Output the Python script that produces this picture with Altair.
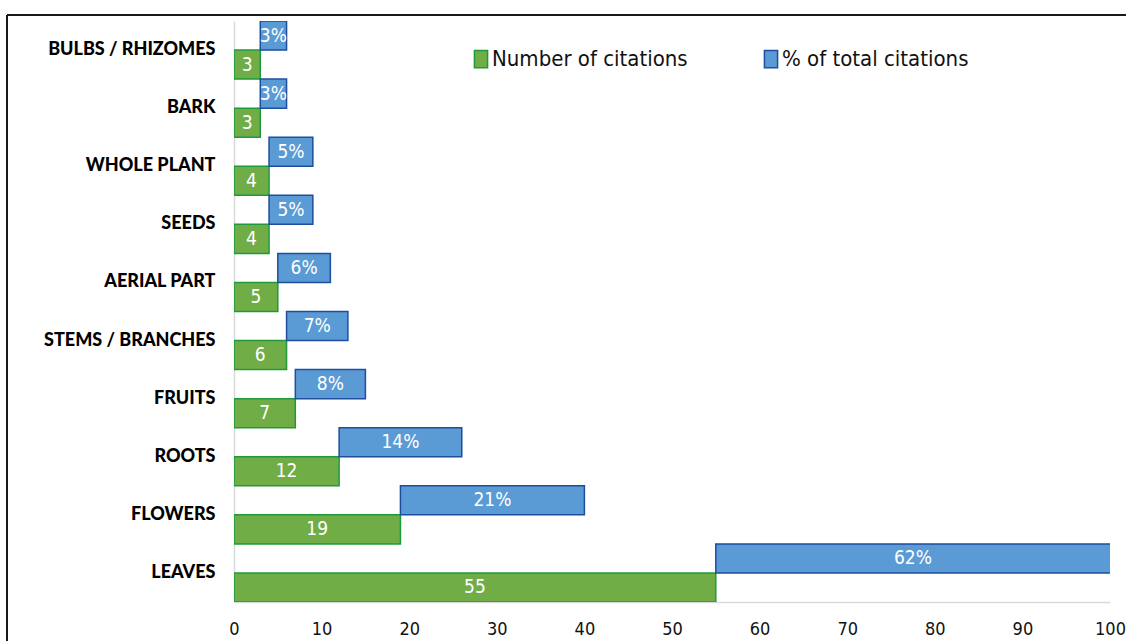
import altair as alt
import pandas as pd

# Plant parts, top to bottom
categories = [
    "BULBS / RHIZOMES", "BARK", "WHOLE PLANT", "SEEDS", "AERIAL PART",
    "STEMS / BRANCHES", "FRUITS", "ROOTS", "FLOWERS", "LEAVES",
]
citations = [3, 3, 4, 4, 5, 6, 7, 12, 19, 55]
percent_of_total = [3, 3, 5, 5, 6, 7, 8, 14, 21, 62]

series = ["Number of citations", "% of total citations"]
fills = ["#70AD47", "#5B9BD5"]
strokes = ["#1E9A3C", "#1F4E9C"]

X_MAX = 100
NARROW = "Liberation Sans Narrow, DejaVu Sans Condensed, Lato, sans-serif"

rows = []
for cat, n, p in zip(categories, citations, percent_of_total):
    rows.append({"category": cat, "series": series[0], "start": 0, "end": n,
                 "label": str(n)})
    rows.append({"category": cat, "series": series[1], "start": n, "end": n + p,
                 "label": f"{p}%"})
df = pd.DataFrame(rows)

y_enc = alt.Y("category:N", sort=categories, title=None,
              scale=alt.Scale(paddingInner=0, paddingOuter=0),
              axis=alt.Axis(labelFont="Lato", labelFontWeight=900,
                            labelFontSize=18, labelColor="#000000",
                            labelPadding=19, ticks=False, domain=True,
                            domainColor="#d9d9d9", domainWidth=1.5))
yoff_enc = alt.YOffset("series:N", sort=[series[1], series[0]],
                       scale=alt.Scale(paddingInner=0, paddingOuter=0))
x_scale = alt.Scale(domain=[0, X_MAX], nice=False)

bars = alt.Chart(df).mark_bar(clip=True, strokeWidth=1.5, opacity=1).encode(
    x=alt.X("start:Q", scale=x_scale, title=None,
            axis=alt.Axis(values=list(range(0, 101, 10)), grid=False, ticks=False,
                          labelFont=NARROW, labelFontSize=18, labelColor="#111111",
                          labelPadding=18, domainColor="#d9d9d9", domainWidth=1.5,
                          labelFlush=False)),
    x2="end:Q",
    y=y_enc,
    yOffset=yoff_enc,
    color=alt.Color("series:N", sort=series,
                    scale=alt.Scale(domain=series, range=fills),
                    legend=alt.Legend(title=None, orient="none", direction="horizontal",
                                      legendX=236, legendY=27,
                                      symbolType="M-0.76,-1H0.76V1H-0.76Z",
                                      symbolSize=300, symbolStrokeWidth=1.5,
                                      labelFont=NARROW, labelFontSize=22,
                                      labelColor="#111111", labelOffset=0,
                                      labelLimit=0, columnPadding=72)),
    stroke=alt.Stroke("series:N", sort=series,
                      scale=alt.Scale(domain=series, range=strokes)),
)

labels = alt.Chart(df).transform_calculate(
    mid=f"(datum.start + min(datum.end, {X_MAX})) / 2"
).mark_text(font=NARROW, fontSize=19, color="white", baseline="middle").encode(
    x=alt.X("mid:Q", scale=x_scale),
    y=alt.Y("category:N", sort=categories),
    yOffset=alt.YOffset("series:N", sort=[series[1], series[0]]),
    text="label:N",
)

# Outer frame: top and left edges
frame_top = alt.Chart(df).mark_rule(color="#1a1a1a", strokeWidth=1.8).encode(
    x=alt.value(-227), x2=alt.value(900), y=alt.value(-6))
frame_left = alt.Chart(df).mark_rule(color="#1a1a1a", strokeWidth=1.8).encode(
    x=alt.value(-227), y=alt.value(-6), y2=alt.value(630))

chart = alt.layer(bars, labels, frame_top, frame_left).properties(
    width=876, height=581,
    autosize=alt.AutoSizeParams(type="none"),
    padding={"left": 234, "top": 21, "right": 16, "bottom": 39},
    background="white",
).configure_view(stroke=None)

chart.save("out.html", embed_options={"renderer": "svg", "actions": False})
